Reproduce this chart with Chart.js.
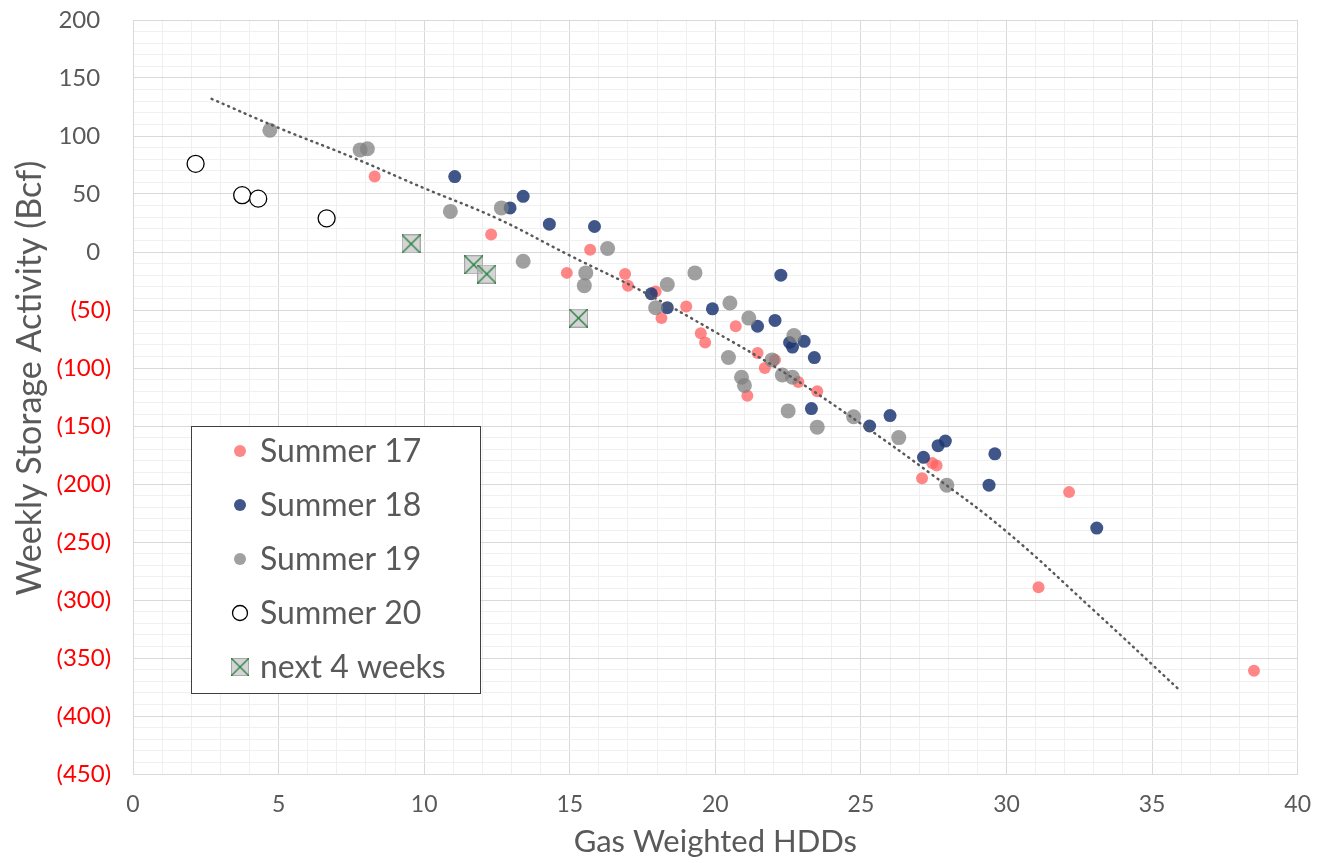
<!DOCTYPE html>
<html>
<head>
<meta charset="utf-8">
<script src="https://cdn.jsdelivr.net/npm/chart.js@4.4.1/dist/chart.umd.min.js"></script>
<style>
  html, body { margin: 0; padding: 0; background: #fff; }
  #wrap { width: 1328px; height: 863px; }
</style>
</head>
<body>
<div id="wrap"><canvas id="grafico" width="1328" height="863"></canvas></div>
<script>
// dados: [HDDs, Bcf]
const summer17 = [[8.3,65],[12.3,15],[15.7,2],[14.9,-18],[16.9,-19],[17.0,-29],[17.95,-34],[18.15,-57],
  [19.0,-47],[20.7,-64],[19.5,-70],[19.65,-78],[21.45,-87],[22.05,-93],[21.7,-100],[22.85,-112],
  [23.5,-120],[21.1,-124],[27.1,-195],[27.45,-182],[27.6,-184],[32.15,-207],[31.1,-289],[38.5,-361]];
const summer18 = [[11.05,65],[13.4,48],[12.95,38],[14.3,24],[15.85,22],[22.25,-20],[17.8,-36],[18.35,-48],
  [19.9,-49],[22.05,-59],[21.45,-64],[22.55,-78],[22.65,-82],[23.05,-77],[23.4,-91],[23.3,-135],
  [26.0,-141],[25.3,-150],[27.9,-163],[27.65,-167],[27.15,-177],[29.6,-174],[29.4,-201],[33.1,-238]];
const summer19 = [[4.7,105],[7.8,88],[8.05,89],[10.9,35],[12.65,38],[13.4,-8],[16.3,3],[15.55,-18],
  [15.5,-29],[18.35,-28],[19.3,-18],[17.95,-48],[20.5,-44],[21.15,-57],[22.7,-72],[20.45,-91],
  [21.95,-93],[20.9,-108],[21.0,-115],[22.3,-106],[22.65,-108],[22.5,-137],[23.5,-151],[24.75,-142],
  [26.3,-160],[27.95,-201]];
const summer20 = [[2.15,76],[3.75,49],[4.3,46],[6.65,29]];
const next4Weeks = [[9.55,7],[11.7,-11],[12.15,-19],[15.3,-57]];
// linha de tendência (pontilhada)
const trend = [[2.7,132],[5,107],[7.5,82],[10,55],[12.5,29],[15,-3],[17.5,-34],[20,-69],[22.5,-106],
  [25,-148],[27.5,-193],[30,-241],[33,-309],[36,-379]];

const seriesNames = ['Summer 17', 'Summer 18', 'Summer 19', 'Summer 20', 'next 4 weeks'];
const xTitle = 'Gas Weighted HDDs';
const yTitle = 'Weekly Storage Activity (Bcf)';

const TXT = '#595959';
const FONT = 'Lato';

const pts = arr => arr.map(p => ({ x: p[0], y: p[1] }));

// marcador quadrado com X (next 4 weeks)
function crossBox(size) {
  const c = document.createElement('canvas');
  c.width = size; c.height = size;
  const g = c.getContext('2d');
  g.fillStyle = 'rgba(191,191,191,0.65)';
  g.fillRect(0, 0, size, size);
  g.strokeStyle = '#a6a6a6';
  g.lineWidth = 1;
  g.strokeRect(0.5, 0.5, size - 1, size - 1);
  g.strokeStyle = '#1e7b3a';
  g.lineWidth = 1.3;
  g.beginPath();
  g.moveTo(0, 0); g.lineTo(size, size);
  g.moveTo(size, 0); g.lineTo(0, size);
  g.stroke();
  return c;
}
const boxMarker = crossBox(19);

const styles = [
  { fill: 'rgba(255,95,95,0.75)', r: 6 },
  { fill: 'rgba(30,55,115,0.85)', r: 6.5 },
  { fill: 'rgba(128,128,128,0.75)', r: 7.5 },
  { fill: '#ffffff', r: 8.5, stroke: '#000' },
  { img: boxMarker }
];

// legenda + título do eixo Y desenhados à mão
const extras = {
  id: 'extras',
  afterDraw(chart) {
    const ctx = chart.ctx;
    const x0 = 191, y0 = 426, w = 289, h = 267;
    ctx.save();
    ctx.fillStyle = '#fff';
    ctx.fillRect(x0, y0, w, h);
    ctx.strokeStyle = '#404040';
    ctx.lineWidth = 1;
    ctx.strokeRect(x0 + 0.5, y0 + 0.5, w, h);
    ctx.font = '32px ' + FONT;
    ctx.textBaseline = 'middle';
    seriesNames.forEach((name, i) => {
      const cy = 451 + i * 54;
      const s = styles[i];
      if (s.img) {
        ctx.drawImage(s.img, 240 - 9, cy - 9, 18, 18);
      } else {
        ctx.beginPath();
        ctx.arc(240, cy, i === 3 ? 7.5 : 6, 0, Math.PI * 2);
        ctx.fillStyle = s.fill;
        ctx.fill();
        if (s.stroke) { ctx.strokeStyle = s.stroke; ctx.lineWidth = 1.3; ctx.stroke(); }
      }
      ctx.fillStyle = TXT;
      ctx.fillText(name, 260, cy + 1);
    });

    ctx.translate(30, 378);
    ctx.rotate(-Math.PI / 2);
    ctx.font = '34px ' + FONT;
    ctx.textAlign = 'center';
    ctx.fillStyle = TXT;
    ctx.fillText(yTitle, 0, 0);
    ctx.restore();
  }
};

function scatterSet(label, data, i, order) {
  const s = styles[i];
  return {
    label: label,
    data: pts(data),
    order: order,
    showLine: false,
    pointStyle: s.img ? s.img : 'circle',
    pointRadius: s.img ? 9 : s.r,
    pointBackgroundColor: s.fill || 'transparent',
    pointBorderColor: s.stroke || 'transparent',
    pointBorderWidth: s.stroke ? 1.3 : 0
  };
}

const datasets = [
  {
    label: 'trend',
    data: pts(trend),
    order: 0,
    showLine: true,
    borderColor: '#595959',
    borderWidth: 2.5,
    borderDash: [1, 5],
    borderCapStyle: 'round',
    tension: 0.4,
    pointRadius: 0,
    fill: false
  },
  scatterSet(seriesNames[0], summer17, 0, 5),
  scatterSet(seriesNames[1], summer18, 1, 4),
  scatterSet(seriesNames[2], summer19, 2, 3),
  scatterSet(seriesNames[3], summer20, 3, 2),
  scatterSet(seriesNames[4], next4Weeks, 4, 1)
];

const config = {
  type: 'scatter',
  data: { datasets: datasets },
  options: {
    responsive: false,
    animation: false,
    layout: { padding: { top: 20, right: 28, left: 0, bottom: 0 } },
    plugins: {
      legend: { display: false },
      tooltip: { enabled: false }
    },
    scales: {
      x: {
        type: 'linear',
        min: 0, max: 40,
        afterFit: s => { s.height = 89; },
        ticks: {
          stepSize: 1,
          autoSkip: false,
          maxRotation: 0,
          padding: 17,
          color: TXT,
          font: { family: FONT, size: 23 },
          callback: v => (v % 5 === 0 ? v : '')
        },
        grid: {
          drawTicks: false,
          color: c => (c.tick && c.tick.value % 5 === 0 ? '#d9d9d9' : '#f0f0f0'),
          lineWidth: 1
        },
        border: { color: '#d9d9d9' },
        title: {
          display: true,
          text: xTitle,
          color: TXT,
          font: { family: FONT, size: 31 },
          padding: { top: 0, bottom: 2 }
        }
      },
      y: {
        type: 'linear',
        min: -450, max: 200,
        afterFit: s => { s.width = 133; },
        ticks: {
          stepSize: 10,
          autoSkip: false,
          padding: 5,
          color: c => (c.tick.value < 0 ? '#ff0000' : TXT),
          font: { family: FONT, size: 24 },
          callback: v => {
            if (v % 50 !== 0) return '';
            // espaço à direita, como o formato #,##0_);(#,##0)
            return v < 0 ? '(' + Math.abs(v) + ')\u2007\u2009' : v + '\u2007\u2007';
          }
        },
        grid: {
          drawTicks: false,
          color: c => (c.tick && c.tick.value % 50 === 0 ? '#d9d9d9' : '#f0f0f0'),
          lineWidth: 1
        },
        border: { color: '#d9d9d9' },
        title: { display: false }
      }
    }
  },
  plugins: [extras]
};

new Chart(document.getElementById('grafico').getContext('2d'), config);
</script>
</body>
</html>
